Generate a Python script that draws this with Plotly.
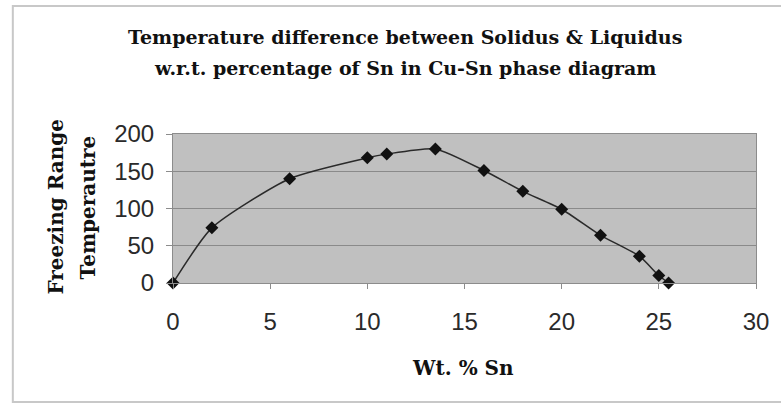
import plotly.graph_objects as go

# Data
wt_sn = [0, 2, 6, 10, 11, 13.5, 16, 18, 20, 22, 24, 25, 25.5]
freezing_range = [0, 74, 140, 168, 173, 180, 151, 123, 99, 64, 36, 10, 0]

x_ticks = [0, 5, 10, 15, 20, 25, 30]
y_ticks = [0, 50, 100, 150, 200]

title_lines = ["Temperature difference between Solidus &amp; Liquidus",
               "w.r.t. percentage of Sn in Cu-Sn phase diagram"]
x_title = "Wt. % Sn"
y_title_lines = ["Freezing Range", "Temperautre"]

W, H = 781, 405
L, R, T, B = 173, 22, 134, 122
pw, ph = W - L - R, H - T - B

serif = "DejaVu Serif, serif"
sans = "Liberation Sans, Arial, sans-serif"


def px_x(px):
    return (px - L) / pw


def px_y(py):
    return (T + ph - py) / ph


fig = go.Figure()
fig.add_trace(go.Scatter(
    x=wt_sn, y=freezing_range,
    mode="lines+markers",
    line=dict(color="#2a2a2a", width=1.5, shape="spline", smoothing=0.6),
    marker=dict(symbol="diamond", size=10, color="#111111"),
    cliponaxis=False,
    showlegend=False,
    hoverinfo="x+y",
))

fig.update_layout(
    width=W, height=H,
    margin=dict(l=L, r=R, t=T, b=B),
    paper_bgcolor="white",
    plot_bgcolor="#c0c0c0",
    showlegend=False,
)

fig.update_xaxes(
    range=[0, 30], tickvals=x_ticks, ticktext=[str(v) for v in x_ticks],
    showgrid=False, zeroline=False,
    showline=True, linecolor="#8c8c8c", linewidth=1, mirror=True,
    ticks="outside", ticklen=5, tickcolor="#8c8c8c",
    ticklabelstandoff=12,
    tickfont=dict(family=sans, size=24, color="#2a2a2a"),
)
fig.update_yaxes(
    range=[0, 200], tickvals=y_ticks, ticktext=[str(v) for v in y_ticks],
    showgrid=True, gridcolor="#8a8a8a", gridwidth=1, zeroline=False,
    showline=True, linecolor="#8c8c8c", linewidth=1, mirror=True,
    ticks="outside", ticklen=6, tickcolor="#8c8c8c",
    ticklabelstandoff=7,
    tickfont=dict(family=sans, size=24, color="#2a2a2a"),
)

# Chart title (two lines)
for line, cy in zip(title_lines, [37, 68]):
    fig.add_annotation(
        text="<b>" + line + "</b>", xref="paper", yref="paper",
        x=px_x(406), y=px_y(cy),
        showarrow=False, xanchor="center", yanchor="middle",
        font=dict(family=serif, size=19, color="#111111"),
    )

# X axis title
fig.add_annotation(
    text="<b>" + x_title + "</b>", xref="paper", yref="paper",
    x=px_x(464), y=px_y(368),
    showarrow=False, xanchor="center", yanchor="middle",
    font=dict(family=serif, size=20, color="#111111"),
)

# Y axis title (two rotated lines)
for line, cx in zip(y_title_lines, [55, 88]):
    fig.add_annotation(
        text="<b>" + line + "</b>", xref="paper", yref="paper",
        x=px_x(cx), y=px_y(207), textangle=-90,
        showarrow=False, xanchor="center", yanchor="middle",
        font=dict(family=serif, size=20, color="#111111"),
    )

# Outer chart border
fig.add_shape(
    type="rect", xref="paper", yref="paper",
    x0=px_x(12), x1=px_x(W + 10),
    y0=px_y(402), y1=px_y(6),
    line=dict(color="#c8c8c8", width=2), fillcolor="rgba(0,0,0,0)",
    layer="below",
)

fig.write_html("out.html")
